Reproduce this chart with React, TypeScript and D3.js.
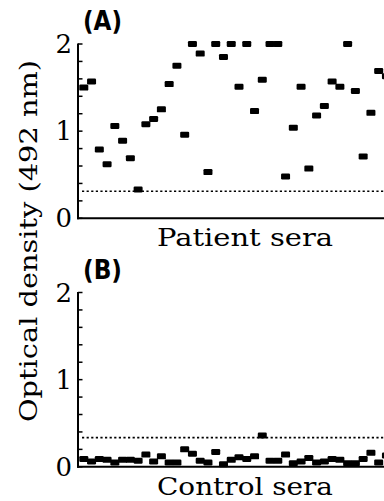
import * as React from 'react';
import * as d3 from 'd3';

// optical density, one value per serum
const patientSera = [1.50, 1.57, 0.79, 0.62, 1.06, 0.89, 0.69, 0.33, 1.08, 1.14,
    1.25, 1.54, 1.75, 0.96, 2.0, 1.89, 0.53, 2.0, 1.85, 2.0,
    1.51, 2.0, 1.23, 1.59, 2.0, 2.0, 0.48, 1.04, 1.51, 0.57,
    1.18, 1.29, 1.57, 1.51, 2.0, 1.46, 0.71, 1.21, 1.69, 1.63];
const controlSera = [0.09, 0.06, 0.09, 0.08, 0.05, 0.08, 0.08, 0.07, 0.14, 0.06,
    0.12, 0.05, 0.05, 0.20, 0.15, 0.07, 0.05, 0.17, 0.03, 0.08,
    0.11, 0.09, 0.12, 0.36, 0.07, 0.07, 0.14, 0.04, 0.06, 0.10,
    0.05, 0.06, 0.09, 0.08, 0.04, 0.04, 0.09, 0.16, 0.05, 0.13];
const cutoffs = [0.31, 0.335];
const panelLabels = ['(A)', '(B)'];
const groupLabels = ['Patient sera', 'Control sera'];
const yTickLabels = [0, 1, 2];
const yMinorTicks = d3.range(0, 2.001, 0.2);

const WIDTH = 384, HEIGHT = 501;
const AXIS_X = 78;
const SERIF = "'DejaVu Serif', 'Liberation Serif', serif";

const xScale = d3.scaleLinear().domain([0, 39]).range([83.8, 83.8 + 39 * 7.76]);

function Panel({ values, cutoff, label, xLabel, top }) {
    const bottom = top + 174.3;
    const yScale = d3.scaleLinear().domain([0, 2]).range([bottom, top]);
    return (
        <g>
            <text x={83} y={top - 14} fontFamily="'DejaVu Sans Condensed', 'DejaVu Sans', sans-serif" fontWeight="bold"
                fontSize={26} textLength={39} lengthAdjust="spacingAndGlyphs">{label}</text>
            {/* axes */}
            <line x1={AXIS_X} x2={AXIS_X} y1={yScale(2) - 0.5} y2={yScale(0) + 1} stroke="#000" strokeWidth={2} />
            <line x1={AXIS_X - 1} x2={WIDTH} y1={yScale(0)} y2={yScale(0)} stroke="#000" strokeWidth={2} />
            {yMinorTicks.map((t, i) => (
                <line key={i} x1={AXIS_X} x2={AXIS_X + 4.5} y1={yScale(t)} y2={yScale(t)} stroke="#000" strokeWidth={1.5} />
            ))}
            {yTickLabels.map(t => (
                <text key={t} x={72} y={yScale(t) + 9} textAnchor="end" fontFamily={SERIF} fontSize={26}>{t}</text>
            ))}
            <line x1={82} x2={WIDTH} y1={yScale(cutoff)} y2={yScale(cutoff)} stroke="#000"
                strokeWidth={1.6} strokeDasharray="2.2,2.4" />
            {values.map((v, i) => (
                <rect key={i} x={xScale(i) - 4.5} y={yScale(v) - 3} width={9} height={6} rx={1.2} fill="#000" />
            ))}
            <text x={245} y={bottom + 28} textAnchor="middle" fontFamily={SERIF} fontSize={25}
                textLength={176} lengthAdjust="spacingAndGlyphs">{xLabel}</text>
        </g>
    );
}

export default function App() {
    return (
        <svg width={WIDTH} height={HEIGHT} style={{ position: 'absolute', left: 0, top: 0, background: '#fff' }}>
            <Panel values={patientSera} cutoff={cutoffs[0]} label={panelLabels[0]} xLabel={groupLabels[0]} top={44} />
            <Panel values={controlSera} cutoff={cutoffs[1]} label={panelLabels[1]} xLabel={groupLabels[1]} top={292.5} />
            <text transform="translate(37,241) rotate(-90)" textAnchor="middle" fontFamily={SERIF} fontSize={25}
                textLength={362} lengthAdjust="spacingAndGlyphs">Optical density (492 nm)</text>
        </svg>
    );
}
